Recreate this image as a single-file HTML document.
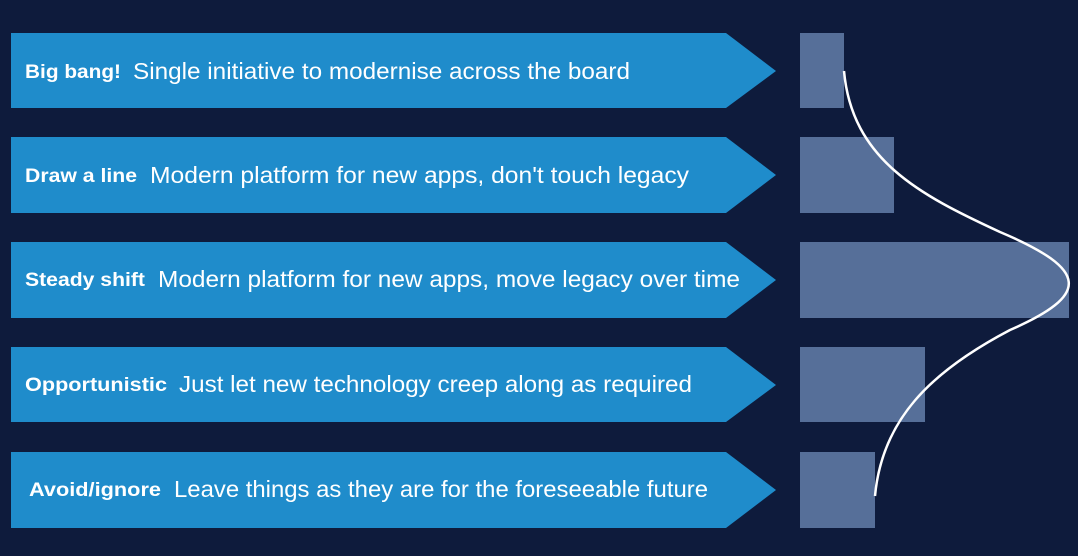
<!DOCTYPE html>
<html><head><meta charset="utf-8"><style>
html,body{margin:0;padding:0;background:#0e1b3c;}
svg{display:block}
text{fill:#fff;font-family:"Liberation Sans",sans-serif;}
.l{font-weight:bold;font-size:19px}
.d{font-size:23px}
</style></head><body>
<svg width="1078" height="556" viewBox="0 0 1078 556">
<rect width="1078" height="556" fill="#0e1b3c"/>
<g fill="#1f8ccb">
<polygon points="11,33 726,33 776,71 726,108 11,108"/>
<polygon points="11,137 726,137 776,175 726,213 11,213"/>
<polygon points="11,242 726,242 776,280 726,318 11,318"/>
<polygon points="11,347 726,347 776,385 726,422 11,422"/>
<polygon points="11,452 726,452 776,490 726,528 11,528"/>
</g>
<g fill="#566f99">
<rect x="800" y="33" width="44" height="75"/>
<rect x="800" y="137" width="94" height="76"/>
<rect x="800" y="242" width="269" height="76"/>
<rect x="800" y="347" width="125" height="75"/>
<rect x="800" y="452" width="75" height="76"/>
</g>
<path d="M844,71 C852,160 920,195 1000,232 C1090,270 1090,295 1010,330 C930,372 882,420 875,496" fill="none" stroke="#fff" stroke-width="2.5"/>
<text class="l" x="25" y="78" textLength="96" lengthAdjust="spacingAndGlyphs">Big bang!</text>
<text class="d" x="133" y="79" textLength="497" lengthAdjust="spacingAndGlyphs">Single initiative to modernise across the board</text>
<text class="l" x="25" y="182" textLength="112" lengthAdjust="spacingAndGlyphs">Draw a line</text>
<text class="d" x="150" y="183" textLength="539" lengthAdjust="spacingAndGlyphs">Modern platform for new apps, don't touch legacy</text>
<text class="l" x="25" y="286" textLength="120" lengthAdjust="spacingAndGlyphs">Steady shift</text>
<text class="d" x="158" y="287" textLength="582" lengthAdjust="spacingAndGlyphs">Modern platform for new apps, move legacy over time</text>
<text class="l" x="25" y="391" textLength="142" lengthAdjust="spacingAndGlyphs">Opportunistic</text>
<text class="d" x="179" y="392" textLength="513" lengthAdjust="spacingAndGlyphs">Just let new technology creep along as required</text>
<text class="l" x="29" y="496" textLength="132" lengthAdjust="spacingAndGlyphs">Avoid/ignore</text>
<text class="d" x="174" y="497" textLength="534" lengthAdjust="spacingAndGlyphs">Leave things as they are for the foreseeable future</text>
</svg>
</body></html>
